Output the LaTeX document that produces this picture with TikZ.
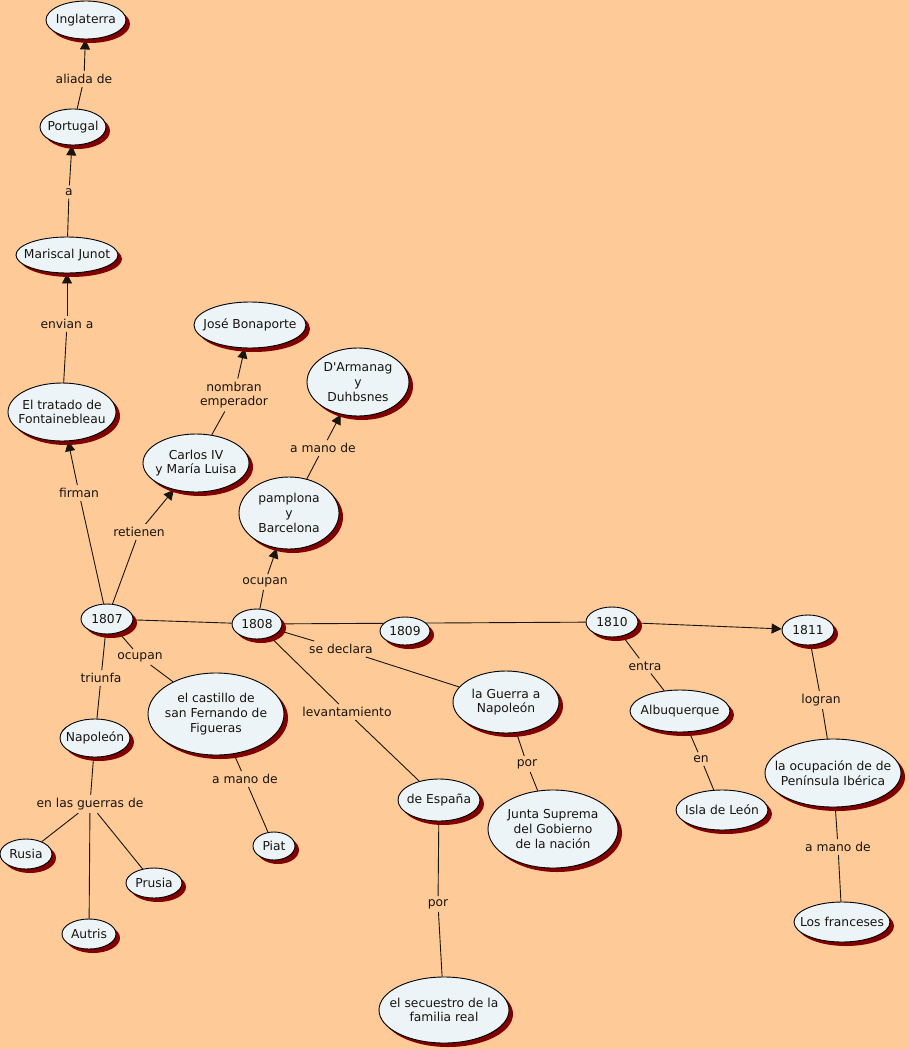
\documentclass[tikz,border=0pt]{standalone}
\usepackage{fontspec}
\setmainfont{DejaVu Sans}[Ligatures=TeXOff]
\usetikzlibrary{shapes.geometric,shadows,arrows.meta}
\pgfdeclarelayer{bg}
\pgfdeclarelayer{edges}
\pgfsetlayers{bg,edges,main}
\definecolor{bgpeach}{RGB}{254,202,152}
\definecolor{nodefill}{RGB}{236,244,248}
\definecolor{shadowred}{RGB}{128,0,0}
\definecolor{ink}{RGB}{25,20,15}
\tikzset{
  concept/.style 2 args={ellipse, draw=black, line width=0.9pt, fill=nodefill,
    inner sep=0pt, minimum width=#1pt, minimum height=#2pt,
    drop shadow={shadow xshift=4pt, shadow yshift=-4pt, fill=shadowred, opacity=1}},
  ctext/.style={inner sep=0pt, align=center, text=ink,
    font=\fontsize{12.3pt}{14.6pt}\selectfont},
  linklab/.style={inner sep=3pt, align=center, text=ink,
    font=\fontsize{12.3pt}{14.6pt}\selectfont},
  conn/.style={draw=ink, line width=0.9pt},
  arr/.style={conn, -{Triangle[length=10pt,width=10pt]}}
}
\begin{document}
\begin{tikzpicture}[x=1pt,y=-1pt]
\begin{pgfonlayer}{bg}
\fill[bgpeach] (0,0) rectangle (909,1049);
\end{pgfonlayer}
\useasboundingbox (0,0) rectangle (909,1049);

% concepts
\node[concept={80}{38}, label={[ctext]center:Inglaterra}] (ing) at (86,20) {};
\node[concept={66}{36}, label={[ctext]center:Portugal}] (port) at (73,127) {};
\node[concept={102}{36}, label={[ctext]center:Mariscal Junot}] (jun) at (67,255) {};
\node[concept={108}{58}, label={[ctext]center:El tratado de\\Fontainebleau}] (trat) at (62,412) {};
\node[concept={112}{46}, label={[ctext]center:José Bonaporte}] (jose) at (250,325) {};
\node[concept={102}{68}, label={[ctext]center:D'Armanag\\y\\Duhbsnes}] (darm) at (358,382) {};
\node[concept={106}{58}, label={[ctext]center:Carlos IV\\y María Luisa}] (carlos) at (196,463) {};
\node[concept={100}{72}, label={[ctext]center:pamplona\\y\\Barcelona}] (pamp) at (289,513) {};
\node[concept={52}{30}, label={[ctext]center:1807}] (n1807) at (107,619) {};
\node[concept={50}{30}, label={[ctext]center:1808}] (n1808) at (257,624) {};
\node[concept={50}{28}, label={[ctext]center:1809}] (n1809) at (405,631) {};
\node[concept={52}{30}, label={[ctext]center:1810}] (n1810) at (612,622) {};
\node[concept={52}{30}, label={[ctext]center:1811}] (n1811) at (808,630) {};
\node[concept={136}{82}, label={[ctext]center:el castillo de\\san Fernando de\\Figueras}] (cast) at (216,714) {};
\node[concept={70}{38}, label={[ctext]center:Napoleón}] (nap) at (95,738) {};
\node[concept={42}{28}, label={[ctext]center:Piat}] (piat) at (274,846) {};
\node[concept={52}{30}, label={[ctext]center:Rusia}] (rus) at (26,854) {};
\node[concept={56}{30}, label={[ctext]center:Prusia}] (prus) at (154,883) {};
\node[concept={54}{30}, label={[ctext]center:Autris}] (aut) at (89,934) {};
\node[concept={106}{62}, label={[ctext]center:la Guerra a\\Napoleón}] (guerra) at (506,702) {};
\node[concept={82}{42}, label={[ctext]center:de España}] (esp) at (439,800) {};
\node[concept={130}{78}, label={[ctext]center:Junta Suprema\\del Gobierno\\de la nación}] (junta) at (553,829) {};
\node[concept={130}{66}, label={[ctext]center:el secuestro de la\\familia real}] (secu) at (444,1010) {};
\node[concept={100}{42}, label={[ctext]center:Albuquerque}] (alb) at (680,711) {};
\node[concept={92}{40}, label={[ctext]center:Isla de León}] (isla) at (722,810) {};
\node[concept={136}{68}, label={[ctext]center:la ocupación de de\\Península Ibérica}] (ocup) at (833,773) {};
\node[concept={96}{40}, label={[ctext]center:Los franceses}] (fran) at (842,922) {};

% link labels
\node[linklab] (l1) at (84,79) {aliada de};
\node[linklab] (l2) at (69,192) {a};
\node[linklab] (l3) at (67,324) {envian a};
\node[linklab] (l4) at (79,493) {firman};
\node[linklab] (l5) at (139,532) {retienen};
\node[linklab] (l6) at (234,395) {nombran\\emperador};
\node[linklab] (l7) at (265,582) {ocupan};
\node[linklab] (l8) at (323,448) {a mano de};
\node[linklab] (l9) at (140,657) {ocupan};
\node[linklab] (l10) at (101,678) {triunfa};
\node[linklab] (l11) at (341,649) {se declara};
\node[linklab] (l12) at (347,712) {levantamiento};
\node[linklab] (l13) at (90,804) {en las guerras de};
\node[linklab] (l14) at (245,779) {a mano de};
\node[linklab] (l15) at (527,764) {por};
\node[linklab] (l16) at (438,904) {por};
\node[linklab] (l17) at (645,666) {entra};
\node[linklab] (l18) at (701,759) {en};
\node[linklab] (l19) at (821,700) {logran};
\node[linklab] (l20) at (838,847) {a mano de};

\begin{pgfonlayer}{edges}
\draw[conn] (port) -- (l1); \draw[arr] (l1) -- (ing);
\draw[conn] (jun) -- (l2); \draw[arr] (l2) -- (port);
\draw[conn] (trat) -- (l3); \draw[arr] (l3) -- (jun);
\draw[conn] (n1807) -- (l4); \draw[arr] (l4) -- (trat);
\draw[conn] (n1807) -- (l5); \draw[arr] (l5) -- (carlos);
\draw[conn] (carlos) -- (l6); \draw[arr] (l6) -- (jose);
\draw[conn] (n1808) -- (l7); \draw[arr] (l7) -- (pamp);
\draw[conn] (pamp) -- (l8); \draw[arr] (l8) -- (darm);
\draw[conn] (n1807) -- (n1808);
\draw[conn] (n1808) -- (n1810);
\draw[arr] (n1810) -- (n1811);
\draw[conn] (n1807) -- (l9); \draw[conn] (l9) -- (cast);
\draw[conn] (n1807) -- (l10); \draw[conn] (l10) -- (nap);
\draw[conn] (n1808) -- (l11); \draw[conn] (l11) -- (guerra);
\draw[conn] (n1808) -- (l12); \draw[conn] (l12) -- (esp);
\draw[conn] (nap) -- (l13);
\draw[conn] (l13) -- (rus); \draw[conn] (l13) -- (prus); \draw[conn] (l13) -- (aut);
\draw[conn] (cast) -- (l14); \draw[conn] (l14) -- (piat);
\draw[conn] (guerra) -- (l15); \draw[conn] (l15) -- (junta);
\draw[conn] (esp) -- (l16); \draw[conn] (l16) -- (secu);
\draw[conn] (n1810) -- (l17); \draw[conn] (l17) -- (alb);
\draw[conn] (alb) -- (l18); \draw[conn] (l18) -- (isla);
\draw[conn] (n1811) -- (l19); \draw[conn] (l19) -- (ocup);
\draw[conn] (ocup) -- (l20); \draw[conn] (l20) -- (fran);
\end{pgfonlayer}
\end{tikzpicture}
\end{document}
